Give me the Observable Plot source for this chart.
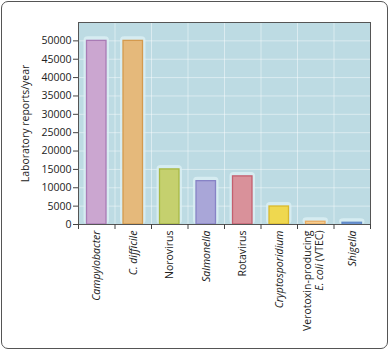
<!DOCTYPE html>
<html>
<head>
<meta charset="utf-8">
<script src="https://cdn.jsdelivr.net/npm/d3@7"></script>
<script src="https://cdn.jsdelivr.net/npm/@observablehq/plot@0.6"></script>
<style>
  html, body { margin: 0; padding: 0; background: #fff; }
  #card { position: absolute; left: 1px; top: 1px; width: 385px; height: 346px; border: 1.5px solid #555; border-radius: 7px; }
  #chart { position: absolute; left: 0; top: 0; }
</style>
</head>
<body>
<div id="card"></div>
<div id="chart"></div>
<script>
const categories = ["Campylobacter", "C. difficile", "Norovirus", "Salmonella", "Rotavirus", "Cryptosporidium", "Verotoxin-producing\nE. coli (VTEC)", "Shigella"];
const values = [50000, 50000, 15000, 11800, 13100, 4900, 750, 470];
const italicLabels = ["Campylobacter", "C. difficile", "Salmonella", "Cryptosporidium", "Shigella"];
const fills = ["#cba6d0", "#e5b97b", "#c5d06e", "#a9a6d8", "#d9919a", "#efd84f", "#f6cd90", "#7fa6dc"];
const strokes = ["#a97bb5", "#d49a4e", "#a8b844", "#8783c6", "#c4606f", "#d9b92e", "#e8ab62", "#5f88c8"];
const yTicks = [0, 5000, 10000, 15000, 20000, 25000, 30000, 35000, 40000, 45000, 50000];
const yGrid = [0, 5000, 10000, 15000, 20000, 25000, 30000, 35000, 40000, 45000, 50000, 55000];
const yLabel = "Laboratory reports/year";

const idx = categories.map((d, i) => i);
const bounds = categories.map((d, i) => i).concat([categories.length]);
const centers = idx.map(i => i + 0.5);

const plot = Plot.plot({
  width: 390,
  height: 351,
  marginLeft: 78,
  marginRight: 20,
  marginTop: 22,
  marginBottom: 127,
  style: { fontFamily: "'Open Sans', sans-serif", fontSize: "10.5px", color: "#222", background: "transparent" },
  x: { type: "linear", domain: [0, categories.length], axis: null },
  y: { domain: [0, 55000], axis: null },
  color: { type: "identity" },
  marks: [
    Plot.frame({ fill: "#bddbe3" }),
    Plot.ruleY(yGrid, { stroke: "#fff", strokeOpacity: 0.45, strokeWidth: 1 }),
    Plot.ruleX(bounds, { stroke: "#fff", strokeOpacity: 0.45, strokeWidth: 1 }),
    Plot.rectY(idx, { x1: i => i, x2: i => i + 1, y: i => values[i], fill: "#dcf0f4", fillOpacity: 0.8, insetLeft: 5.5, insetRight: 5.5, insetTop: -4, rx: 4 }),
    Plot.rectY(idx, { x1: i => i, x2: i => i + 1, y: i => values[i], fill: i => fills[i], stroke: i => strokes[i], strokeWidth: 1.3, insetLeft: 8.5, insetRight: 8.5 }),
    Plot.frame({ stroke: "#555", strokeWidth: 1 }),
    Plot.axisY({ ticks: yTicks, tickSize: 5, tickPadding: 2, tickFormat: d => String(d), label: yLabel, labelAnchor: "center", labelOffset: 57, labelArrow: "none", stroke: "#444" }),
    Plot.axisX({ ticks: bounds, tickSize: 5, tickFormat: () => "", label: null, stroke: "#444" }),
    Plot.axisX({ ticks: centers, tickSize: 0, tickPadding: 6, tickRotate: -90, tickFormat: v => categories[Math.floor(v)], label: null })
  ]
});

// italicise genus names in tick labels; space the two-line label
d3.select(plot).selectAll("text").each(function() {
  const t = this.textContent;
  if (italicLabels.includes(t)) this.setAttribute("font-style", "italic");
  const spans = Array.from(this.querySelectorAll("tspan"));
  if (spans.length === 2 && spans[1].textContent === "E. coli (VTEC)") {
    spans[0].setAttribute("dy", "-0.25em");
    spans[1].setAttribute("dy", "1.15em");
    const s = spans[1];
    s.textContent = "";
    const it = document.createElementNS("http://www.w3.org/2000/svg", "tspan");
    it.setAttribute("font-style", "italic");
    it.textContent = "E. coli";
    s.appendChild(it);
    s.appendChild(document.createTextNode(" (VTEC)"));
  }
});

document.getElementById("chart").appendChild(plot);
</script>
</body>
</html>
